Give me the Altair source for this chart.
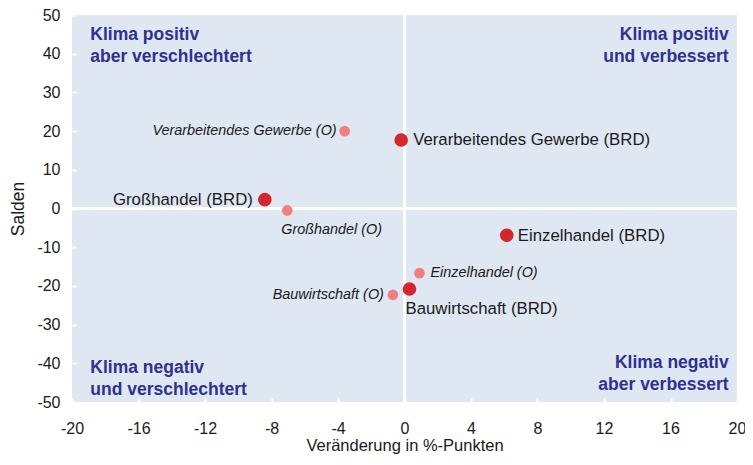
import altair as alt
import pandas as pd

# ---- data ----
names = [
    "Verarbeitendes Gewerbe (O)", "Verarbeitendes Gewerbe (BRD)",
    "Großhandel (BRD)", "Großhandel (O)",
    "Einzelhandel (BRD)", "Einzelhandel (O)",
    "Bauwirtschaft (BRD)", "Bauwirtschaft (O)",
]
x_change = [-3.6, -0.2, -8.4, -7.05, 6.15, 0.9, 0.3, -0.7]
y_saldo = [20.0, 17.7, 2.3, -0.5, -6.9, -16.7, -20.8, -22.3]
group = ["O", "BRD", "BRD", "O", "BRD", "O", "BRD", "O"]

quad_text = [
    "Klima positiv\naber verschlechtert",
    "Klima positiv\nund verbessert",
    "Klima negativ\nund verschlechtert",
    "Klima negativ\naber verbessert",
]
quad_x = [-18.9, 19.5, -18.9, 19.5]
quad_y = [47.2, 47.2, -38.9, -37.6]

x_ticks = list(range(-20, 21, 4))
y_ticks = list(range(-50, 51, 10))

df = pd.DataFrame({"x": x_change, "y": y_saldo, "name": names, "group": group})
qdf = pd.DataFrame({"x": quad_x, "y": quad_y, "text": quad_text})

FONT = "Liberation Sans"
TXT = "#1a1a1a"
BLUE = "#2e3191"
LBL = "'' + datum.value"

X = alt.X("x:Q", scale=alt.Scale(domain=[-20, 20], nice=False, zero=False),
          axis=alt.Axis(values=x_ticks, title="Veränderung in %-Punkten", grid=False,
                        labelExpr=LBL, labelFlush=False,
                        domain=False, tickColor="white", tickSize=4, tickWidth=2, offset=-4,
                        labelPadding=18, labelFontSize=16, labelColor=TXT, labelFont=FONT,
                        titleFontSize=16.5, titleFont=FONT, titleColor=TXT,
                        titleFontWeight="normal", titlePadding=1))
Y = alt.Y("y:Q", scale=alt.Scale(domain=[-50, 50], nice=False, zero=False),
          axis=alt.Axis(values=y_ticks, title="Salden", grid=False,
                        labelExpr=LBL, labelFlush=False,
                        domain=False, tickColor="white", tickSize=4, tickWidth=2, offset=-4,
                        labelPadding=12, labelFontSize=16, labelColor=TXT, labelFont=FONT,
                        titleFontSize=17.5, titleFont=FONT, titleColor=TXT,
                        titleFontWeight="normal", titlePadding=9))

base = alt.Chart(df)

vrule = alt.Chart(pd.DataFrame({"x": [0]})).mark_rule(color="white", strokeWidth=3).encode(x=X)
hrule = alt.Chart(pd.DataFrame({"y": [0]})).mark_rule(color="white", strokeWidth=3).encode(y=Y)

points = base.mark_circle(opacity=1).encode(
    x=X, y=Y,
    color=alt.Color("group:N", scale=alt.Scale(domain=["BRD", "O"], range=["#d4262d", "#f27f80"]), legend=None),
    size=alt.Size("group:N", scale=alt.Scale(domain=["BRD", "O"], range=[185, 115]), legend=None),
)


def label(name, align, dx, dy, italic):
    return base.transform_filter(alt.datum.name == name).mark_text(
        align=align, baseline="middle", dx=dx, dy=dy, font=FONT,
        fontSize=14.4 if italic else 16.8, fontStyle="italic" if italic else "normal", color=TXT,
    ).encode(x=X, y=Y, text="name:N")


labels = [
    label("Verarbeitendes Gewerbe (O)", "right", -8, 0, True),
    label("Verarbeitendes Gewerbe (BRD)", "left", 12, 0, False),
    label("Großhandel (BRD)", "right", -12, 0, False),
    label("Großhandel (O)", "left", -6, 20, True),
    label("Einzelhandel (BRD)", "left", 11, 1, False),
    label("Einzelhandel (O)", "left", 11, 0, True),
    label("Bauwirtschaft (BRD)", "left", -4, 20, False),
    label("Bauwirtschaft (O)", "right", -9, 0, True),
]

q_left = alt.Chart(qdf).transform_filter(alt.datum.x < 0).mark_text(
    align="left", baseline="top", font=FONT, fontSize=17.5, fontWeight="bold",
    color=BLUE, lineBreak="\n", lineHeight=22).encode(x=X, y=Y, text="text:N")
q_right = alt.Chart(qdf).transform_filter(alt.datum.x > 0).mark_text(
    align="right", baseline="top", font=FONT, fontSize=17.5, fontWeight="bold",
    color=BLUE, lineBreak="\n", lineHeight=22).encode(x=X, y=Y, text="text:N")

chart = alt.layer(vrule, hrule, points, *labels, q_left, q_right).properties(
    width=665, height=387,
    autosize="none",
    padding={"left": 64, "top": 7, "right": 8, "bottom": 55},
).configure_view(fill="#dfe7f3", stroke=None)

chart.save("out.html", embed_options={"renderer": "svg", "actions": False})
